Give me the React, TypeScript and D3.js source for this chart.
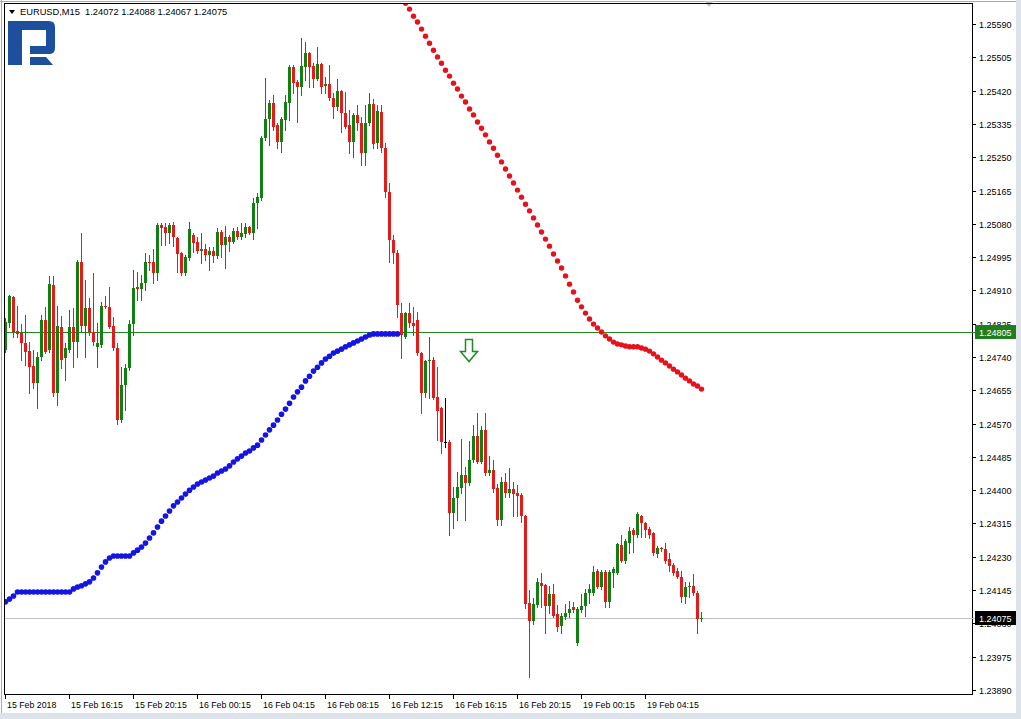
import React from 'react';
import * as d3 from 'd3';

const W = 1021;
const H = 719;

const symbolTitle = 'EURUSD,M15  1.24072 1.24088 1.24067 1.24075';

const timeLabels = ['15 Feb 2018', '15 Feb 16:15', '15 Feb 20:15', '16 Feb 00:15', '16 Feb 04:15', '16 Feb 08:15', '16 Feb 12:15', '16 Feb 16:15', '16 Feb 20:15', '19 Feb 00:15', '19 Feb 04:15'];
const timeTickIndex = [0, 16, 32, 48, 64, 80, 96, 112, 128, 144, 160];

const priceTicks = [1.25590, 1.25505, 1.25420, 1.25335, 1.25250, 1.25165, 1.25080, 1.24995, 1.24910, 1.24825, 1.24740, 1.24655, 1.24570, 1.24485, 1.24400, 1.24315, 1.24230, 1.24145, 1.24060, 1.23975, 1.23890];

const opens = [1.24758,1.24827,1.24893,1.24806,1.24801,1.24776,1.24755,1.24717,1.24674,1.24740,1.24834,1.24758,1.24924,1.24648,1.24817,1.24737,1.24758,1.24817,1.24778,1.24982,1.24819,1.24865,1.24804,1.24766,1.24771,1.24870,1.24868,1.24819,1.24763,1.24579,1.24669,1.24712,1.24824,1.24919,1.24913,1.24929,1.24982,1.24982,1.24954,1.25077,1.25072,1.25056,1.25077,1.25044,1.25005,1.24954,1.24993,1.25051,1.25033,1.25010,1.25016,1.25000,1.25010,1.24998,1.25059,1.25026,1.25046,1.25033,1.25061,1.25046,1.25054,1.25072,1.25056,1.25133,1.25146,1.25299,1.25347,1.25388,1.25332,1.25289,1.25345,1.25388,1.25480,1.25442,1.25429,1.25480,1.25516,1.25483,1.25449,1.25488,1.25432,1.25437,1.25401,1.25378,1.25419,1.25363,1.25332,1.25289,1.25358,1.25337,1.25261,1.25337,1.25386,1.25286,1.25365,1.25273,1.25161,1.25039,1.25005,1.24852,1.24791,1.24852,1.24827,1.24834,1.24750,1.24648,1.24730,1.24732,1.24638,1.24610,1.24523,1.24523,1.24342,1.24380,1.24406,1.24439,1.24418,1.24477,1.24538,1.24472,1.24554,1.24444,1.24452,1.24406,1.24324,1.24421,1.24393,1.24403,1.24393,1.24388,1.24334,1.24112,1.24066,1.24107,1.24163,1.24158,1.24105,1.24135,1.24084,1.24053,1.24076,1.24087,1.24102,1.24010,1.24094,1.24105,1.24138,1.24138,1.24194,1.24153,1.24191,1.24115,1.24189,1.24189,1.24260,1.24219,1.24265,1.24298,1.24286,1.24334,1.24316,1.24301,1.24291,1.24237,1.24253,1.24250,1.24224,1.24209,1.24194,1.24179,1.24128,1.24153,1.24156,1.24138,1.24072];

const highs = [1.24840,1.24898,1.24896,1.24870,1.24824,1.24847,1.24778,1.24758,1.24753,1.24847,1.24868,1.24947,1.24947,1.24870,1.24845,1.24776,1.24860,1.24865,1.24987,1.25056,1.24936,1.24891,1.24954,1.24827,1.24880,1.24896,1.24919,1.24842,1.24776,1.24714,1.24722,1.24834,1.24962,1.24957,1.24949,1.25005,1.25000,1.25016,1.25082,1.25082,1.25082,1.25082,1.25085,1.25046,1.25008,1.25000,1.25085,1.25056,1.25046,1.25056,1.25028,1.25021,1.25021,1.25069,1.25064,1.25074,1.25051,1.25069,1.25072,1.25082,1.25082,1.25074,1.25146,1.25159,1.25304,1.25452,1.25396,1.25409,1.25337,1.25352,1.25409,1.25485,1.25485,1.25447,1.25554,1.25544,1.25518,1.25490,1.25531,1.25490,1.25455,1.25485,1.25414,1.25449,1.25421,1.25416,1.25370,1.25363,1.25383,1.25352,1.25383,1.25414,1.25398,1.25383,1.25383,1.25286,1.25184,1.25051,1.25013,1.24878,1.24855,1.24878,1.24868,1.24855,1.24753,1.24732,1.24791,1.24740,1.24714,1.24612,1.24635,1.24528,1.24408,1.24447,1.24531,1.24459,1.24526,1.24566,1.24597,1.24564,1.24597,1.24487,1.24477,1.24416,1.24434,1.24444,1.24457,1.24421,1.24413,1.24393,1.24337,1.24145,1.24125,1.24176,1.24189,1.24161,1.24156,1.24161,1.24107,1.24087,1.24110,1.24117,1.24115,1.24102,1.24135,1.24148,1.24161,1.24207,1.24199,1.24196,1.24196,1.24196,1.24204,1.24265,1.24286,1.24276,1.24306,1.24304,1.24344,1.24337,1.24319,1.24306,1.24293,1.24258,1.24255,1.24265,1.24240,1.24214,1.24201,1.24194,1.24166,1.24166,1.24186,1.24143,1.24088];

const lows = [1.24753,1.24817,1.24791,1.24791,1.24732,1.24720,1.24648,1.24661,1.24610,1.24732,1.24750,1.24753,1.24640,1.24617,1.24712,1.24681,1.24753,1.24714,1.24740,1.24804,1.24740,1.24796,1.24771,1.24714,1.24766,1.24865,1.24814,1.24758,1.24569,1.24574,1.24605,1.24707,1.24796,1.24885,1.24885,1.24911,1.24962,1.24929,1.24936,1.25026,1.25026,1.25031,1.25023,1.24957,1.24949,1.24949,1.24987,1.25008,1.25005,1.24980,1.24987,1.24962,1.24982,1.24993,1.24995,1.24967,1.25010,1.25031,1.25041,1.25041,1.25046,1.25054,1.25041,1.25069,1.25141,1.25294,1.25281,1.25319,1.25273,1.25263,1.25319,1.25345,1.25414,1.25340,1.25409,1.25447,1.25429,1.25429,1.25447,1.25414,1.25414,1.25396,1.25350,1.25370,1.25314,1.25324,1.25261,1.25250,1.25319,1.25230,1.25230,1.25332,1.25273,1.25273,1.25263,1.25148,1.24982,1.24980,1.24842,1.24737,1.24788,1.24817,1.24796,1.24745,1.24597,1.24638,1.24635,1.24633,1.24528,1.24495,1.24510,1.24286,1.24304,1.24324,1.24393,1.24324,1.24413,1.24472,1.24469,1.24469,1.24439,1.24439,1.24395,1.24311,1.24311,1.24383,1.24383,1.24334,1.24334,1.24319,1.24099,1.23923,1.24059,1.24102,1.24102,1.24036,1.24087,1.24076,1.24041,1.24036,1.24071,1.24076,1.24089,1.24005,1.24089,1.24079,1.24112,1.24133,1.24150,1.24148,1.24102,1.24102,1.24153,1.24186,1.24217,1.24214,1.24240,1.24242,1.24281,1.24281,1.24281,1.24278,1.24235,1.24230,1.24245,1.24214,1.24194,1.24184,1.24176,1.24115,1.24112,1.24128,1.24133,1.24036,1.24067];

const closes = [1.24829,1.24896,1.24804,1.24799,1.24776,1.24753,1.24714,1.24674,1.24740,1.24834,1.24753,1.24926,1.24648,1.24819,1.24732,1.24763,1.24817,1.24778,1.24982,1.24819,1.24865,1.24804,1.24778,1.24776,1.24870,1.24868,1.24817,1.24763,1.24579,1.24669,1.24712,1.24824,1.24916,1.24913,1.24929,1.24982,1.24980,1.24954,1.25077,1.25069,1.25056,1.25077,1.25046,1.25003,1.24954,1.24995,1.25067,1.25031,1.25010,1.25016,1.25000,1.25010,1.24998,1.25059,1.25026,1.25046,1.25033,1.25061,1.25046,1.25056,1.25072,1.25056,1.25133,1.25148,1.25299,1.25347,1.25388,1.25327,1.25289,1.25347,1.25391,1.25480,1.25439,1.25429,1.25483,1.25516,1.25480,1.25449,1.25488,1.25429,1.25437,1.25401,1.25378,1.25419,1.25363,1.25327,1.25289,1.25358,1.25337,1.25261,1.25337,1.25386,1.25284,1.25368,1.25273,1.25161,1.25039,1.25005,1.24873,1.24796,1.24852,1.24827,1.24819,1.24750,1.24648,1.24730,1.24732,1.24635,1.24602,1.24523,1.24523,1.24342,1.24380,1.24408,1.24439,1.24418,1.24477,1.24538,1.24472,1.24554,1.24444,1.24452,1.24403,1.24324,1.24421,1.24393,1.24403,1.24390,1.24385,1.24334,1.24110,1.24066,1.24110,1.24166,1.24156,1.24105,1.24135,1.24079,1.24051,1.24079,1.24087,1.24097,1.24094,1.24097,1.24105,1.24138,1.24148,1.24191,1.24153,1.24191,1.24115,1.24191,1.24199,1.24263,1.24219,1.24270,1.24296,1.24286,1.24339,1.24316,1.24298,1.24286,1.24240,1.24253,1.24250,1.24219,1.24207,1.24189,1.24179,1.24128,1.24153,1.24156,1.24138,1.24071,1.24075];

// lower (blue) trailing indicator, bars 0..98
const blueStart = 0;
const blueDots = [1.24115,1.24122,1.24130,1.24140,1.24140,1.24140,1.24140,1.24140,1.24140,1.24140,1.24140,1.24140,1.24140,1.24140,1.24140,1.24140,1.24140,1.24148,1.24153,1.24156,1.24161,1.24166,1.24176,1.24189,1.24204,1.24217,1.24227,1.24232,1.24232,1.24232,1.24232,1.24232,1.24240,1.24247,1.24255,1.24265,1.24278,1.24291,1.24306,1.24321,1.24334,1.24347,1.24360,1.24370,1.24380,1.24390,1.24400,1.24408,1.24416,1.24421,1.24426,1.24431,1.24436,1.24444,1.24449,1.24454,1.24462,1.24472,1.24480,1.24487,1.24495,1.24500,1.24508,1.24515,1.24528,1.24541,1.24554,1.24566,1.24579,1.24594,1.24607,1.24622,1.24638,1.24651,1.24663,1.24679,1.24691,1.24704,1.24714,1.24725,1.24735,1.24742,1.24750,1.24755,1.24760,1.24766,1.24771,1.24776,1.24781,1.24786,1.24791,1.24796,1.24799,1.24799,1.24799,1.24799,1.24799,1.24799,1.24799];

// upper (red) trailing indicator, bars 100..174
const redStart = 100;
const redDots = [1.25643,1.25628,1.25610,1.25595,1.25577,1.25559,1.25541,1.25523,1.25506,1.25490,1.25472,1.25457,1.25439,1.25424,1.25406,1.25391,1.25373,1.25358,1.25340,1.25324,1.25307,1.25289,1.25273,1.25255,1.25238,1.25220,1.25202,1.25184,1.25166,1.25148,1.25130,1.25113,1.25095,1.25077,1.25059,1.25041,1.25023,1.25003,1.24985,1.24967,1.24947,1.24926,1.24906,1.24885,1.24868,1.24852,1.24837,1.24824,1.24814,1.24804,1.24794,1.24786,1.24778,1.24773,1.24771,1.24768,1.24766,1.24766,1.24766,1.24763,1.24760,1.24755,1.24748,1.24740,1.24732,1.24725,1.24717,1.24709,1.24702,1.24694,1.24686,1.24679,1.24671,1.24666,1.24658];

const levelPrice = 1.24805;
const bidPrice = 1.24075;
const arrowBar = 116;
const arrowPrice = 1.24786;

const GREEN = '#127f12';
const RED = '#e31b1b';
const BLUE = '#1414e6';
const DOT_RED = '#e8101a';
const FONT = '"Liberation Sans", Arial, sans-serif';

const x = d3.scaleLinear().domain([0, 174]).range([5.5, 701.5]);
const y = d3.scaleLinear().domain([1.23890, 1.25590]).range([690, 24]);
const fmt = d3.format('.5f');

export default function App() {
  const candles = d3.range(opens.length).map((i) => ({ i, o: opens[i], h: highs[i], l: lows[i], c: closes[i] }));
  const ly = Math.round(y(levelPrice)) + 0.5;
  const by = Math.round(y(bidPrice)) + 0.5;
  const ax = Math.round(x(arrowBar)) + 0.5;
  const ay = Math.round(y(arrowPrice)) + 0.5;

  return (
    <>
      <style>{`body{margin:0}`}</style>
      <svg width={W} height={H} style={{ display: 'block', fontFamily: FONT }}>
        <rect width={W} height={H} fill="#dde3ea" />
        <rect x={0} y={0} width={1016} height={713} fill="#ffffff" />
        <line x1={0} x2={1016} y1={1.5} y2={1.5} stroke="#a8a8a8" />
        <line x1={1.5} x2={1.5} y1={0} y2={713} stroke="#a8a8a8" />

        <defs>
          <clipPath id="plotclip">
            <rect x={5} y={4} width={967} height={690} />
          </clipPath>
        </defs>

        {/* logo */}
        <g fill="#1d4f9d">
          <path d="M8,21 H49 Q55,21 55,27 V48 Q55,54 49,54 H30 V46 H46 V30 H22 V65 H8 Z" />
          <path d="M30,57 H46 L53,65 H30 Z" />
        </g>

        {/* title */}
        <path d="M9,10 L15,10 L12,14 Z" fill="#000" />
        <text x={20} y={15} fontSize={9.3} fill="#000" style={{ whiteSpace: 'pre' }}>{symbolTitle}</text>

        <g clipPath="url(#plotclip)">
          {/* bid line */}
          <line x1={4} x2={973} y1={by} y2={by} stroke="#c0c0c0" />
          {/* level line */}
          <line x1={4} x2={973} y1={ly} y2={ly} stroke="#1f8a1f" />

          {/* candles */}
          {candles.map((d) => {
            const cx = x(d.i);
            const col = d.c > d.o ? GREEN : d.c < d.o ? RED : '#000';
            const top = Math.round(y(Math.max(d.o, d.c)));
            const bot = Math.round(y(Math.min(d.o, d.c)));
            return (
              <g key={d.i}>
                <line x1={cx} x2={cx} y1={Math.round(y(d.h))} y2={Math.round(y(d.l)) + 1} stroke={col} />
                {d.c !== d.o ? (
                  <rect x={cx - 1.5} y={top} width={3} height={Math.max(1, bot - top)} fill={col} />
                ) : (
                  <line x1={cx - 1.5} x2={cx + 1.5} y1={top + 0.5} y2={top + 0.5} stroke={col} />
                )}
              </g>
            );
          })}

          {/* blue dots */}
          {blueDots.map((v, k) => (
            <circle key={'b' + k} cx={x(blueStart + k)} cy={y(v)} r={2.8} fill={BLUE} />
          ))}
          {/* red dots */}
          {redDots.map((v, k) => (
            <circle key={'r' + k} cx={x(redStart + k)} cy={y(v)} r={2.7} fill={DOT_RED} />
          ))}

          {/* down arrow */}
          <path
            d={`M${ax - 4},${ay} H${ax + 3} V${ay + 12} H${ax + 8} L${ax - 0.5},${ay + 22} L${ax - 9},${ay + 12} H${ax - 4} Z`}
            fill="#fff"
            stroke="#1f8a1f"
            strokeWidth={1.5}
          />
        </g>

        {/* shift marker */}
        <path d="M704,1 L714,1 L709,7 Z" fill="#c4c4c4" />

        {/* plot frame */}
        <rect x={4.5} y={3.5} width={968} height={691} fill="none" stroke="#000" />

        {/* price axis */}
        {priceTicks.map((p) => {
          const py = Math.round(y(p)) + 0.5;
          return (
            <g key={p}>
              <line x1={972.5} x2={976} y1={py} y2={py} stroke="#000" />
              <text x={979} y={py} dy="0.35em" fontSize={9} fill="#000">{fmt(p)}</text>
            </g>
          );
        })}

        {/* level label */}
        <line x1={972} x2={975} y1={ly} y2={ly} stroke="#1f8a1f" />
        <rect x={975} y={ly - 7.5} width={41} height={14} fill="#1f7f1f" />
        <text x={979} y={ly} dy="0.35em" fontSize={9} fill="#fff">{fmt(levelPrice)}</text>

        {/* bid label */}
        <line x1={972} x2={975} y1={by} y2={by} stroke="#c0c0c0" />
        <rect x={975} y={by - 7.5} width={41} height={14} fill="#000" />
        <text x={979} y={by} dy="0.35em" fontSize={9} fill="#fff">{fmt(bidPrice)}</text>

        {/* time axis */}
        {timeTickIndex.map((ti, k) => {
          const tx = x(ti);
          return (
            <g key={ti}>
              <line x1={tx} x2={tx} y1={694.5} y2={699} stroke="#000" />
              <text x={tx + 1.5} y={707.5} fontSize={8.8} fill="#000">{timeLabels[k]}</text>
            </g>
          );
        })}
      </svg>
    </>
  );
}
